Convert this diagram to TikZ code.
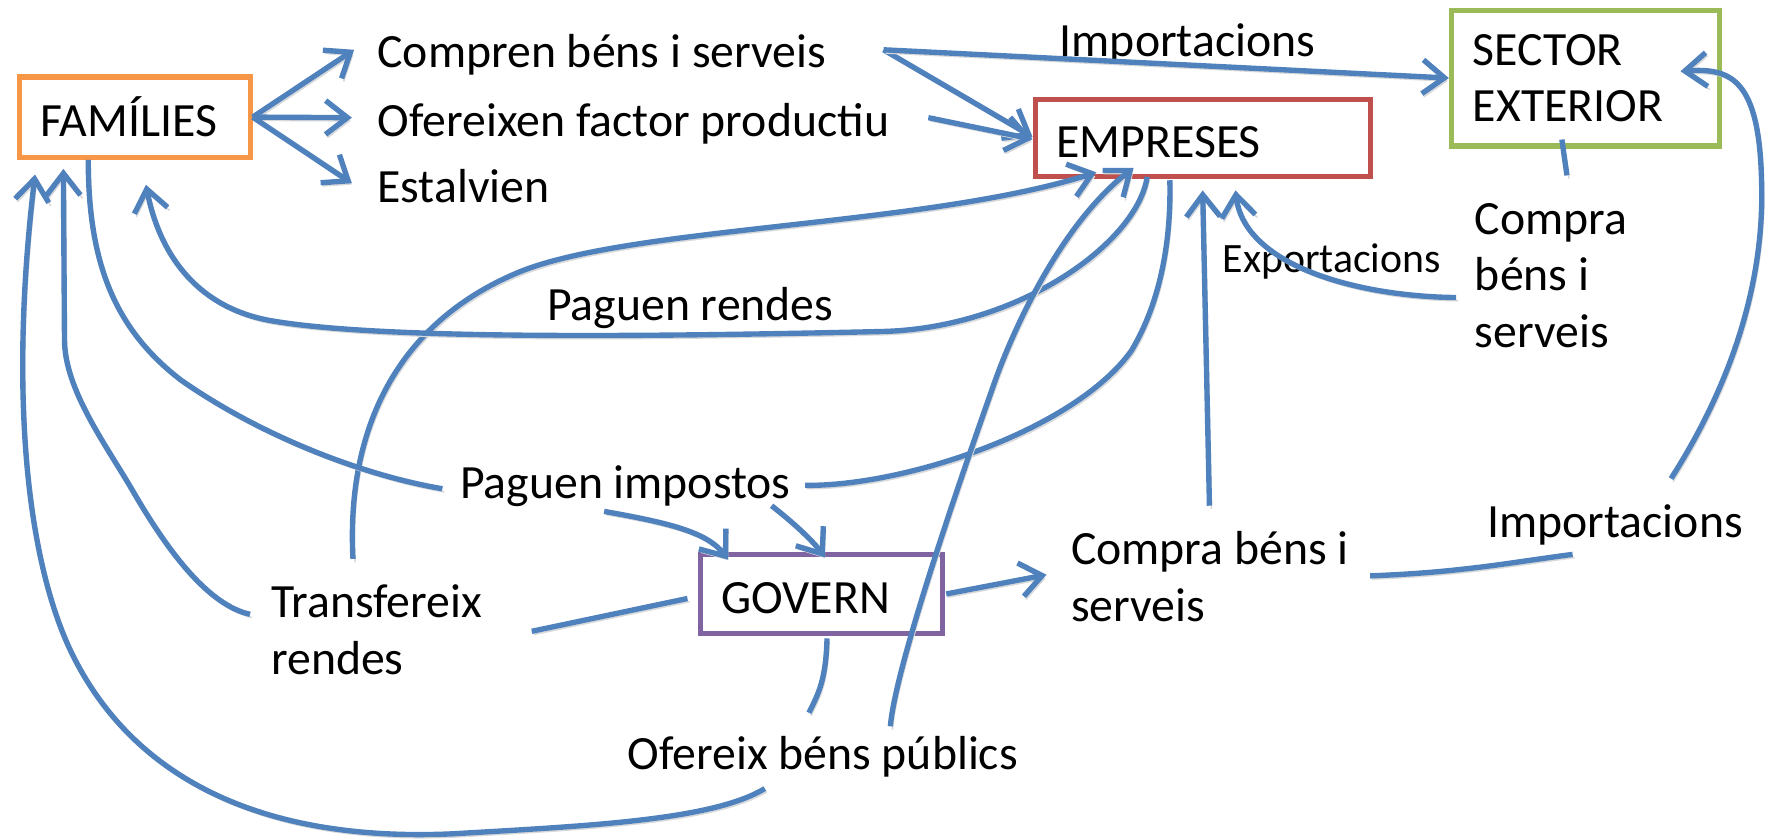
\documentclass[tikz,border=0pt]{standalone}
\usepackage{fontspec}
\setmainfont{Carlito}
\usetikzlibrary{arrows.meta}

\definecolor{blauFlux}{HTML}{4F81BD}
\definecolor{taronja}{HTML}{F79646}
\definecolor{vermell}{HTML}{C0504D}
\definecolor{verd}{HTML}{9BBB59}
\definecolor{lila}{HTML}{8064A2}

\tikzset{
  caixa/.style={draw, line width=1.3pt, align=left, inner xsep=0.19cm, inner ysep=0pt, text height=0.35cm, text depth=0pt},
  etiqueta/.style={inner sep=0pt, anchor=base west, align=left},
  flux/.style={draw=blauFlux, line width=1.35pt, preaction={draw=black!15, transform canvas={shift={(0.5pt,-0.8pt)}}}},
  fletxa/.style={flux, -{Straight Barb[length=5.5pt,width=8.5pt]}},
}

\begin{document}
\begin{tikzpicture}[x=0.01cm, y=-0.01cm, font=\fontsize{12}{14.2}\selectfont]
  \path[use as bounding box, fill=white] (0,0) rectangle (1568,742);

  \node[caixa, draw=taronja, text width=1.66cm, minimum height=0.71cm] (fam) at (119,103.5) {FAMÍLIES};
  \node[caixa, draw=vermell, text width=2.58cm, minimum height=0.68cm] (emp) at (1063,122) {EMPRESES};
  \node[caixa, draw=verd, text width=1.99cm, minimum height=1.20cm, text height={}, text depth={}] (ext) at (1401.5,69) {SECTOR\\EXTERIOR};
  \node[caixa, draw=lila, text width=1.76cm, minimum height=0.70cm] (gov) at (726,525) {GOVERN};

  \node[etiqueta] (compren) at (333,60) {Compren béns i serveis};
  \node[etiqueta] (ofereixen) at (333,121) {Ofereixen factor productiu};
  \node[etiqueta] (estalvien) at (333,179) {Estalvien};
  \node[etiqueta] (importop) at (936,50) {Importacions};
  \node[etiqueta, font=\fontsize{10.5}{12}\selectfont] (export) at (1080,241) {Exportacions};
  \node[etiqueta] (comprext) at (1303,307) {Compra\\béns i\\serveis};
  \node[etiqueta] (rendes) at (483,283) {Paguen rendes};
  \node[etiqueta] (impostos) at (406,441) {Paguen impostos};
  \node[etiqueta] (transf) at (239,596) {Transfereix\\rendes};
  \node[etiqueta] (comprgov) at (946,549) {Compra béns i\\serveis};
  \node[etiqueta] (importbr) at (1314,475) {Importacions};
  \node[etiqueta] (publics) at (554,680) {Ofereix béns públics};

  \draw[fletxa] (fam.east) -- ([shift={(-20,-16)}]compren.base west);
  \draw[fletxa] (fam.east) -- ([shift={(-22,-17)}]ofereixen.base west);
  \draw[fletxa] (fam.east) -- ([shift={(-22,-17)}]estalvien.base west);
  \draw[fletxa] ([shift={(50,-16)}]compren.base east) -- ([shift={(0,-1)}]emp.west);
  \draw[fletxa] ([shift={(50,-16)}]compren.base east) -- (ext.west);
  \draw[fletxa] ([shift={(34,-17)}]ofereixen.base east) -- ([shift={(0,1)}]emp.west);

  \draw[fletxa] ([shift={(73,-102)}]transf.base west) .. controls (306,380) and (350,285) .. (460,240) .. controls (560,200) and (819,200) .. ([shift={(-94,-6)}]emp.south);
  \draw[fletxa] ([shift={(-49,-2)}]emp.south) .. controls (1005,215) and (900,290) .. (780,293) .. controls (560,298) and (330,300) .. (237,283) .. controls (170,270) and (140,220) .. ([shift={(10,22)}]fam.south);
  \draw[flux] ([shift={(-41,0)}]fam.south) .. controls (78,230) and (100,290) .. (160,336) .. controls (230,385) and (320,420) .. ([shift={(-15,-9)}]impostos.base west);
  \draw[flux] ([shift={(12,-12)}]impostos.base east) .. controls (800,430) and (950,380) .. (1000,310) .. controls (1030,260) and (1035,200) .. ([shift={(-29,1)}]emp.south);
  \draw[fletxa] ([shift={(128,11)}]impostos.base west) .. controls (590,462) and (625,470) .. ([shift={(27,7)}]gov.north west);
  \draw[fletxa] ([shift={(276,6)}]impostos.base west) .. controls (705,465) and (720,480) .. ([shift={(3,5)}]gov.north);

  \draw[flux] ([shift={(-9,4)}]gov.west) -- ([shift={(231,-38)}]transf.base west);
  \draw[fletxa] ([shift={(-18,-53)}]transf.base west) .. controls (185,535) and (150,490) .. (118,435) .. controls (95,395) and (57,345) .. (57,300) -- ([shift={(-63,8)}]fam.south);
  \draw[flux] ([shift={(5,2)}]gov.south) .. controls (730,600) and (724,612) .. ([shift={(161,-50)}]publics.base west);
  \draw[fletxa] ([shift={(122,17)}]publics.base west) .. controls (630,725) and (520,730) .. (400,737) .. controls (220,745) and (110,680) .. (60,570) .. controls (20,480) and (10,330) .. ([shift={(-88,13)}]fam.south);
  \draw[fletxa] ([shift={(233,-38)}]publics.base west) .. controls (791,590) and (850,420) .. (878,341) .. controls (892,300) and (935,200) .. ([shift={(-61,-10)}]emp.south);

  \draw[fletxa] ([shift={(1,0)}]gov.east) -- ([shift={(-21,-41)}]comprgov.base west);
  \draw[fletxa] ([shift={(123,-102)}]comprgov.base west) -- ([shift={(0,10)}]emp.south);
  \draw[flux] ([shift={(265,-40)}]comprgov.base west) .. controls (1290,506) and (1330,498) .. ([shift={(76,15)}]importbr.base west);
  \draw[fletxa] ([shift={(163,-52)}]importbr.base west) .. controls (1530,340) and (1560,250) .. (1557,160) .. controls (1555,70) and (1530,60) .. ([shift={(-37,-6)}]ext.east);
  \draw[flux] ([shift={(-21,-8)}]ext.south) -- ([shift={(82,-152)}]comprext.base west);
  \draw[fletxa] ([shift={(-16,-44)}]comprext.base west) .. controls (1200,262) and (1100,235) .. ([shift={(29,10)}]emp.south);
\end{tikzpicture}
\end{document}
